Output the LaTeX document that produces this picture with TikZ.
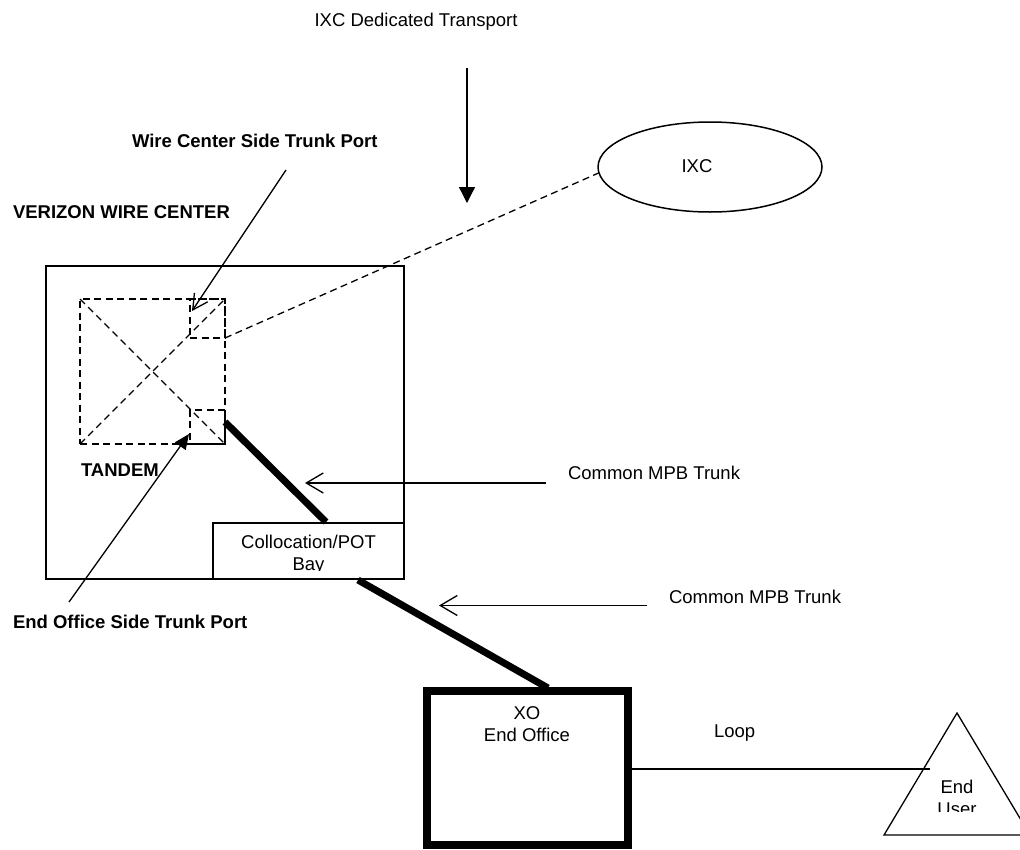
\documentclass[tikz,border=0pt]{standalone}
\usepackage{fontspec}
\setmainfont{Liberation Sans}
\usetikzlibrary{arrows.meta,shapes.geometric}
\begin{document}
\begin{tikzpicture}[x=1pt,y=-1pt,
  every node/.style={font=\fontsize{18.5pt}{22pt}\selectfont, inner sep=0pt, outer sep=0pt},
  thin line/.style={line width=1.3pt},
  dash line/.style={line width=1.3pt, dash pattern=on 7pt off 4.5pt},
  trunk/.style={line width=7pt},
  box/.style={draw, line width=2pt},
  openarrow/.style={thin line, -{Straight Barb[length=17pt,width=20pt,line width=1.3pt]}},
  fillarrow/.style={thin line, -{Triangle[length=15pt,width=13pt]}},
  lbl/.style={anchor=base west},
  blbl/.style={anchor=base west, font=\fontsize{18.5pt}{22pt}\selectfont\bfseries}
]
\useasboundingbox (0,0) rectangle (1020,849);
\clip (0,0) rectangle (1020,849);

% texts
\node[anchor=base] (idt) at (416,26) {IXC Dedicated Transport};
\node[blbl] (wcs) at (132,147) {Wire Center Side Trunk Port};
\node[blbl] (vwc) at (13,218) {VERIZON WIRE CENTER};
\node[blbl] (tdm) at (81,476) {TANDEM};
\node[blbl] (eos) at (13,628) {End Office Side Trunk Port};
\node[lbl] (cm1) at (568,479) {Common MPB Trunk};
\node[lbl] (cm2) at (669,603) {Common MPB Trunk};
\node[lbl] (loop) at (714,737) {Loop};

% IXC
\node[draw, ellipse, line width=1.5pt, minimum width=224pt, minimum height=90pt] (ixc) at (710,167) {};
\node[anchor=base] (ixct) at (697,172) {IXC};

% wire center
\node[box, minimum width=358pt, minimum height=313pt] (wc) at (225,422.5) {};
\node[draw, line width=1.5pt, minimum width=191pt, minimum height=56pt] (coll) at (308.5,551) {};
\begin{scope}
  \clip (213,523) rectangle (404,570.5);
  \node[anchor=base, align=center] (collt) at (308.5,548) {Collocation/POT};
  \node[anchor=base] (bayt) at (308.5,570) {Bay};
\end{scope}

% tandem
\node[draw, dash line, minimum width=145pt, minimum height=145pt] (tdmbox) at (152.5,371.5) {};
\node[draw, dash line, minimum width=35pt, minimum height=39pt] (pt1) at (207.5,318.5) {};
\node[draw, dash line, minimum width=35pt, minimum height=34pt] (pt2) at (207.5,427) {};
\draw[dash line] (tdmbox.north west) -- (tdmbox.south east);
\draw[dash line] (tdmbox.south west) -- (tdmbox.north east);
\draw[dash line] (pt1.south east) -- (ixc.183);

% pointers
\coordinate (idtarr) at (467,68);
\coordinate (idttip) at (467,203);
\draw[thin line, -{Triangle[length=16pt,width=16pt]}] (idtarr) -- (idttip);
\coordinate (wcsfrom) at (286,170);
\coordinate (wcstip) at (192,311);
\draw[thin line, -{Straight Barb[length=15pt,width=16pt,line width=1.3pt]}] (wcsfrom) -- (wcstip);
\coordinate (eosfrom) at (69,602);
\coordinate (eostip) at (189,434);
\draw[fillarrow] (eosfrom) -- (eostip);

% XO end office
\node[draw, line width=8pt, minimum width=201pt, minimum height=154pt] (xo) at (527.5,768) {};
\node[anchor=base] (xot1) at (527,719) {XO};
\node[anchor=base] (xot2) at (527,741) {End Office};

% trunks
\coordinate (t1a) at (225,422);
\coordinate (t1b) at (326,522);
\draw[trunk] (t1a) -- (t1b);
\coordinate (t2a) at (358,580);
\coordinate (t2b) at (548,688);
\draw[trunk] (t2a) -- (t2b);

% trunk labels arrows
\coordinate (a1s) at (546,483);
\coordinate (a1e) at (305,483);
\draw[openarrow] (a1s) -- (a1e);
\coordinate (a2s) at (647,605.5);
\coordinate (a2e) at (439,605.5);
\draw[openarrow] (a2s) -- (a2e);

% end user
\coordinate (eua) at (957,713);
\coordinate (eub) at (884,835);
\coordinate (euc) at (1030,835);
\draw[thin line, line join=miter] (eua) -- (eub) -- (euc) -- cycle;
\coordinate (loopend) at (930,769);
\draw[thin line] (xo.east |- loopend) -- (loopend);
\begin{scope}
  \clip (880,700) rectangle (1020,811);
  \node[anchor=base] (eut1) at (957,793) {End};
  \node[anchor=base] (eut2) at (957,815) {User};
\end{scope}
\end{tikzpicture}
\end{document}
